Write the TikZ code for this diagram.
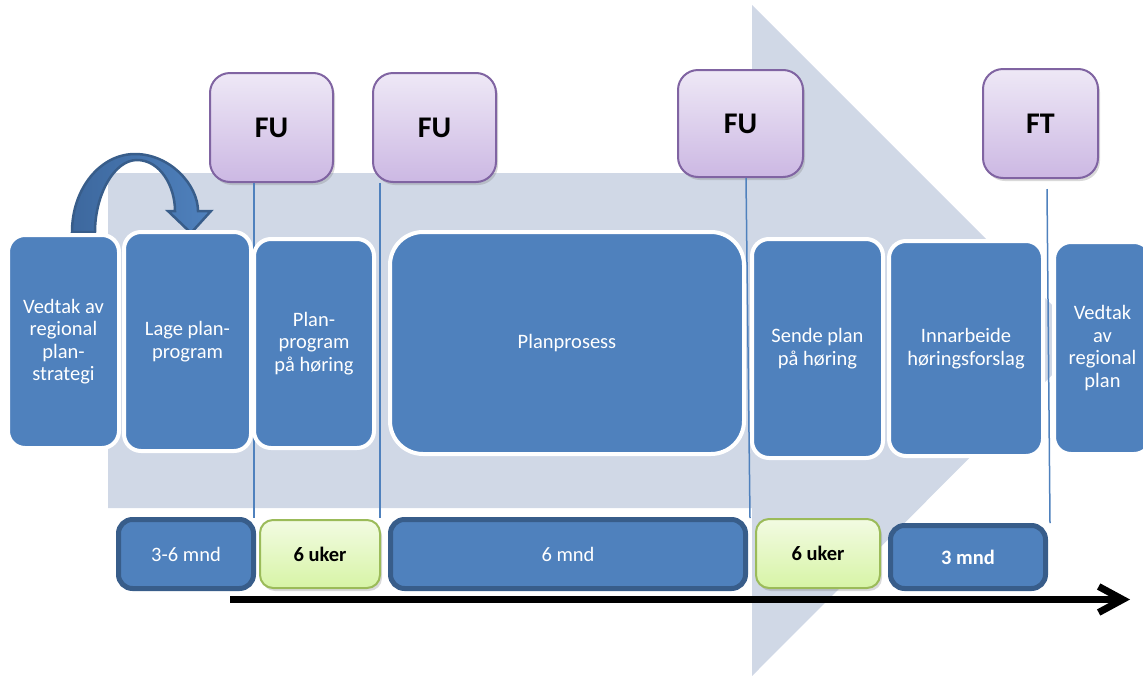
\documentclass[tikz,border=0pt]{standalone}
\usepackage{fontspec}
\setmainfont{Carlito}
\usetikzlibrary{arrows.meta,shadows}

\definecolor{fase}{HTML}{4F81BD}
\definecolor{fase-kant}{HTML}{385D8A}
\definecolor{pil-mork}{HTML}{3D689E}
\definecolor{bakgrunn}{HTML}{D0D8E6}
\definecolor{fu-topp}{HTML}{EEE8F6}
\definecolor{fu-bunn}{HTML}{CCB8E3}
\definecolor{fu-kant}{HTML}{8064A2}
\definecolor{horing-topp}{HTML}{F2FBE2}
\definecolor{horing-bunn}{HTML}{D7F4A6}
\definecolor{horing-kant}{HTML}{9BBB59}

\tikzstyle{fase-box}=[rectangle, rounded corners=17pt, fill=fase, draw=white, line width=4pt, text=white, align=center, inner sep=0pt, font=\fontsize{20.5}{22.5}\selectfont]
\tikzstyle{fu-box}=[rectangle, rounded corners=20pt, draw=fu-kant, line width=2pt, top color=fu-topp, bottom color=fu-bunn, inner sep=0pt, font=\bfseries\fontsize{30}{32}\selectfont, drop shadow={opacity=0.3, shadow xshift=2pt, shadow yshift=-3pt}]
\tikzstyle{varighet}=[rectangle, rounded corners=14pt, fill=fase, draw=fase-kant, line width=5pt, text=white, inner sep=0pt, font=\fontsize{20.5}{22.5}\selectfont]
\tikzstyle{horing}=[rectangle, rounded corners=13pt, draw=horing-kant, line width=2pt, top color=horing-topp, bottom color=horing-bunn, inner sep=0pt, font=\bfseries\fontsize{20.5}{22.5}\selectfont, drop shadow={opacity=0.3, shadow xshift=2pt, shadow yshift=-3pt}]
\tikzstyle{merke}=[draw=fase, line width=1.5pt]
\tikzstyle{buepil}=[draw=fase-kant, line width=2.5pt, left color=pil-mork, right color=fase]
\tikzstyle{tidslinje}=[line width=7pt, -{Straight Barb[length=24pt, width=26pt]}]

\begin{document}
\begin{tikzpicture}[x=1pt, y=-1pt]
  \useasboundingbox (0,0) rectangle (1143,675);
  \fill[bakgrunn] (108,173) -- (752,173) -- (752,5) -- (1087,340) -- (752,676) -- (752,508) -- (108,508) -- cycle;

  \node (fu-1) at (271.5,127.5) [fu-box, minimum width=123pt, minimum height=109pt] {FU};
  \node (fu-2) at (434.5,127.5) [fu-box, minimum width=123pt, minimum height=109pt] {FU};
  \node (fu-3) at (740.5,123.5) [fu-box, minimum width=125pt, minimum height=107pt] {FU};
  \node (ft)   at (1040.5,123.5) [fu-box, minimum width=115pt, minimum height=109pt] {FT};

  \coordinate (merke-1) at (254,518);
  \coordinate (merke-2) at (380,518);
  \coordinate (merke-3) at (750,518);
  \coordinate (merke-4) at (1050,523);
  \draw[merke] ([xshift=-17.5pt]fu-1.south) -- (merke-1);
  \draw[merke] ([xshift=-54.5pt]fu-2.south) -- (merke-2);
  \draw[merke] ([xshift=5.5pt]fu-3.south) -- (merke-3);
  \draw[merke] ([xshift=6.5pt, yshift=-10pt]ft.south) -- (merke-4);

  \filldraw[buepil] (72,232) .. controls (72,189) and (100,154) .. (135,154) .. controls (170,154) and (198,185) .. (198,211) -- (211,211) -- (191,233) -- (168,211) -- (175,211) .. controls (175,186) and (160,160) .. (137,160) .. controls (114,160) and (95,195) .. (95,232) -- cycle;

  \node (fase-1) at (63.5,341.5)  [fase-box, minimum width=111pt, minimum height=213pt] {Vedtak av\\regional\\plan-\\strategi};
  \node (fase-2) at (187.5,341.5) [fase-box, minimum width=127pt, minimum height=219pt] {Lage plan-\\program};
  \node (fase-3) at (314,343.5)   [fase-box, minimum width=120pt, minimum height=209pt] {Plan-\\program\\på høring};
  \node (fase-4) at (567,343)     [fase-box, rounded corners=33pt, minimum width=354pt, minimum height=222pt] {Planprosess};
  \node (fase-5) at (817.5,348.5) [fase-box, minimum width=131pt, minimum height=219pt] {Sende plan\\på høring};
  \node (fase-6) at (966,348.5)   [fase-box, minimum width=154pt, minimum height=215pt] {Innarbeide\\høringsforslag};
  \node (fase-7) at (1102.5,348)  [fase-box, minimum width=97pt, minimum height=212pt] {Vedtak\\av\\regional\\plan};

  \node (tid-1) at (186,554)   [varighet, minimum width=135pt, minimum height=69pt] {3-6 mnd};
  \node (tid-2) at (320,554)   [horing, minimum width=120pt, minimum height=68pt] {6 uker};
  \node (tid-3) at (568,554)   [varighet, minimum width=355pt, minimum height=69pt] {6 mnd};
  \node (tid-4) at (818,553.5) [horing, minimum width=124pt, minimum height=69pt] {6 uker};
  \node (tid-5) at (968,557)   [varighet, minimum width=155pt, minimum height=63pt, font=\bfseries\fontsize{20.5}{22.5}\selectfont] {3 mnd};

  \coordinate (tid-start) at (230,599.5);
  \coordinate (tid-slutt) at (1130,599.5);
  \draw[tidslinje] (tid-start) -- (tid-slutt);
\end{tikzpicture}
\end{document}
